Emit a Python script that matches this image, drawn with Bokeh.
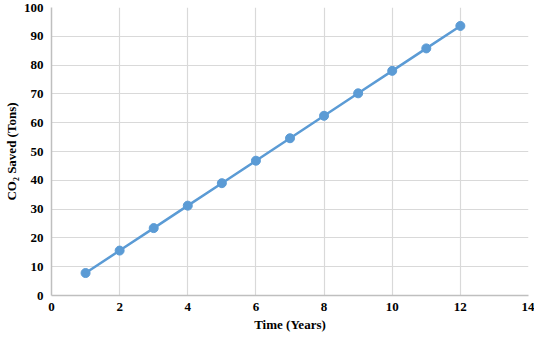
from bokeh.plotting import figure
from bokeh.models import Range1d, FixedTicker
from bokeh.embed import file_html
from bokeh.resources import INLINE

years = [1, 2, 3, 4, 5, 6, 7, 8, 9, 10, 11, 12]
co2_saved = [7.8, 15.6, 23.4, 31.2, 39.0, 46.8, 54.6, 62.4, 70.2, 78.0, 85.8, 93.6]
x_ticks = [0, 2, 4, 6, 8, 10, 12, 14]
y_ticks = [0, 10, 20, 30, 40, 50, 60, 70, 80, 90, 100]

p = figure(width=534, height=334, output_backend="svg", toolbar_location=None,
           x_range=Range1d(0, 14), y_range=Range1d(0, 100),
           min_border_left=0, min_border_right=6, min_border_top=7, min_border_bottom=0)
p.outline_line_color = None
p.background_fill_color = "white"
p.border_fill_color = "white"

p.xaxis.ticker = FixedTicker(ticks=x_ticks)
p.yaxis.ticker = FixedTicker(ticks=y_ticks)
for ax in (p.xaxis[0], p.yaxis[0]):
    ax.axis_line_color = "#bfbfbf"
    ax.axis_line_width = 1.5
    ax.major_tick_line_color = None
    ax.minor_tick_line_color = None
    ax.major_tick_out = 0
    ax.major_tick_in = 0
    ax.major_label_text_font = "Liberation Serif"
    ax.major_label_text_font_style = "bold"
    ax.major_label_text_font_size = "13px"
    ax.major_label_text_color = "#000000"
    ax.axis_label_text_font = "Liberation Serif"
    ax.axis_label_text_font_style = "bold"
    ax.axis_label_text_font_size = "13px"
    ax.axis_label_text_color = "#000000"

p.xaxis.axis_label = "Time (Years)"
p.yaxis.axis_label = "CO\u2082 Saved (Tons)"
p.xaxis.major_label_standoff = 7
p.yaxis.major_label_standoff = 8
p.xaxis.axis_label_standoff = 3
p.yaxis.axis_label_standoff = 2

p.xgrid.grid_line_color = "#d9d9d9"
p.ygrid.grid_line_color = "#d9d9d9"
p.xgrid.grid_line_width = 1.2
p.ygrid.grid_line_width = 1.2

p.line(years, co2_saved, line_color="#5b9bd5", line_width=2.5)
p.scatter(years, co2_saved, size=9, fill_color="#5b9bd5", line_color="#5b9bd5")

open("out.html", "w").write(file_html(p, INLINE))
